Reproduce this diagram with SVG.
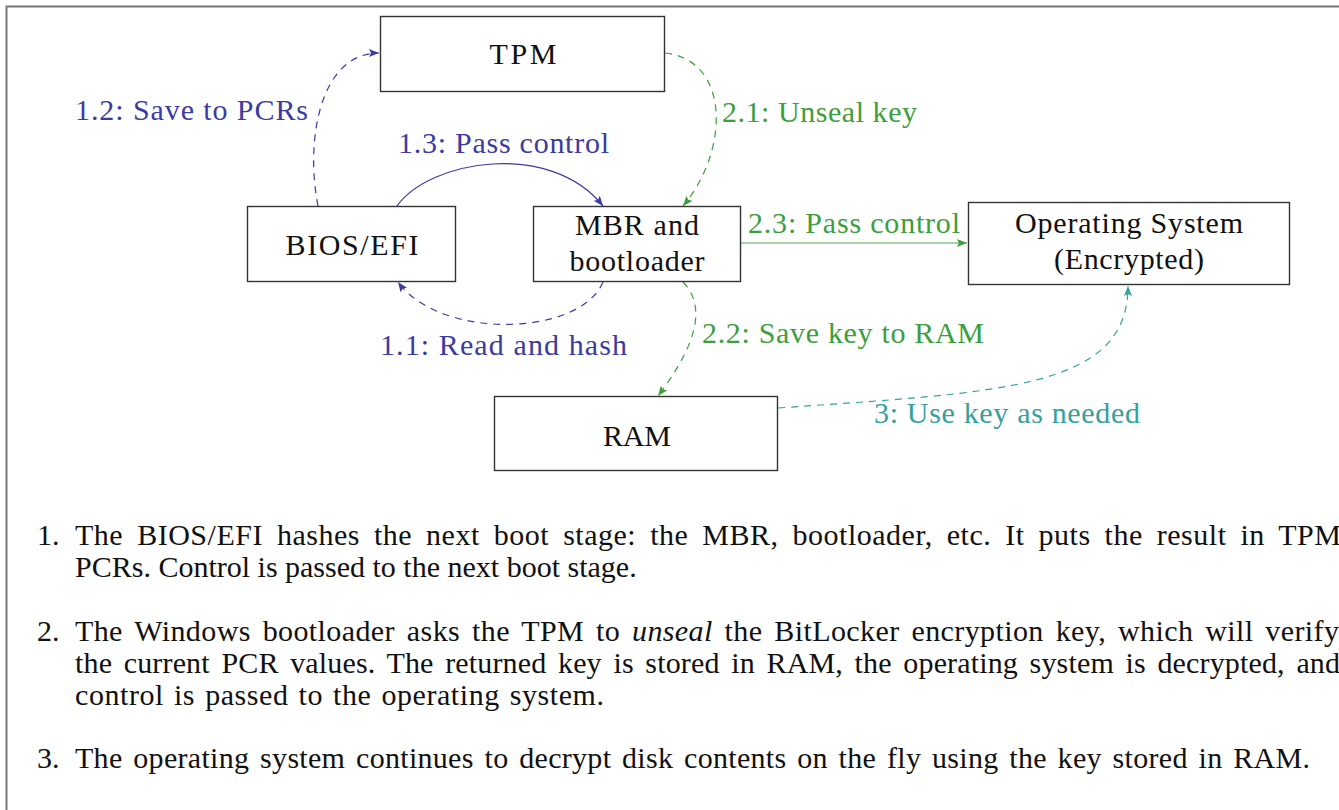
<svg xmlns="http://www.w3.org/2000/svg" width="1339" height="810" viewBox="0 0 1339 810">
  <style>
    text { font-family: "Liberation Serif", "Times New Roman", serif; font-size: 30px; }
    .node rect { fill: #ffffff; stroke: #333333; stroke-width: 1.4; }
    .node text { fill: #111111; text-anchor: middle; }
    .list text { fill: #111111; }
    .blue { fill: #3b3ba0; }
    .green { fill: #3d9e3d; }
    .teal { fill: #35a09c; }
    .c-blue { fill: none; stroke: #3b3ba0; stroke-width: 1.2; }
    .c-green { fill: none; stroke: #3d9e3d; stroke-width: 1.2; }
    .c-teal { fill: none; stroke: #35a09c; stroke-width: 1.2; }
    .dash { stroke-dasharray: 7 6; }
  </style>
  <defs>
    <marker id="ah-blue" viewBox="0 0 10 8" refX="10" refY="4" markerWidth="10" markerHeight="8" markerUnits="userSpaceOnUse" orient="auto">
      <path d="M0,0 L10,4 L0,8 L2,4 Z" fill="#3b3ba0"/>
    </marker>
    <marker id="ah-green" viewBox="0 0 10 8" refX="10" refY="4" markerWidth="10" markerHeight="8" markerUnits="userSpaceOnUse" orient="auto">
      <path d="M0,0 L10,4 L0,8 L2,4 Z" fill="#3d9e3d"/>
    </marker>
    <marker id="ah-teal" viewBox="0 0 10 8" refX="10" refY="4" markerWidth="10" markerHeight="8" markerUnits="userSpaceOnUse" orient="auto">
      <path d="M0,0 L10,4 L0,8 L2,4 Z" fill="#35a09c"/>
    </marker>
  </defs>

  <rect width="1339" height="810" fill="#ffffff"/>
  <!-- page frame -->
  <rect x="6.5" y="6.5" width="1400" height="900" fill="none" stroke="#777777" stroke-width="2"/>

  <!-- connectors -->
  <g id="connectors">
    <path class="c-blue dash" d="M318,206 C305,140 320,53 379,53" marker-end="url(#ah-blue)"/>
    <path class="c-blue" d="M397,206 C430,160 550,140 603,206" marker-end="url(#ah-blue)"/>
    <path class="c-green dash" d="M665,53 C730,60 730,150 683,206" marker-end="url(#ah-green)"/>
    <path class="c-blue dash" d="M603,282 C580,337 440,340 398,282" marker-end="url(#ah-blue)"/>
    <path class="c-green dash" d="M683,282 C705,305 700,340 658,396" marker-end="url(#ah-green)"/>
    <path fill="none" stroke="#86c486" stroke-width="1.6" d="M741,243 L967,243" marker-end="url(#ah-green)"/>
    <path class="c-teal dash" d="M778,408 C1000,392 1128,390 1128,286" marker-end="url(#ah-teal)"/>

    <text class="blue" x="75" y="120" textLength="233">1.2: Save to PCRs</text>
    <text class="blue" x="398" y="153" textLength="211">1.3: Pass control</text>
    <text class="green" x="722" y="122" textLength="195">2.1: Unseal key</text>
    <text class="green" x="748" y="233" textLength="212">2.3: Pass control</text>
    <text class="green" x="702" y="343" textLength="282">2.2: Save key to RAM</text>
    <text class="blue" x="380" y="355" textLength="247">1.1: Read and hash</text>
    <text class="teal" x="874" y="423" textLength="266">3: Use key as needed</text>
  </g>

  <!-- nodes -->
  <g id="tpm" class="node">
    <rect x="380.5" y="16.5" width="284" height="75"/>
    <text x="523" y="64" textLength="67">TPM</text>
  </g>
  <g id="bios" class="node">
    <rect x="247.5" y="206.5" width="208" height="75"/>
    <text x="352" y="255" textLength="133">BIOS/EFI</text>
  </g>
  <g id="mbr" class="node">
    <rect x="533.5" y="206.5" width="207" height="75"/>
    <text x="637" y="235" textLength="124">MBR and</text>
    <text x="637" y="271" textLength="135">bootloader</text>
  </g>
  <g id="os" class="node">
    <rect x="968.5" y="202.5" width="321" height="82"/>
    <text x="1129" y="233" textLength="228">Operating System</text>
    <text x="1129" y="269" textLength="150">(Encrypted)</text>
  </g>
  <g id="ram" class="node">
    <rect x="494.5" y="396.5" width="283" height="74"/>
    <text x="637" y="446" textLength="68">RAM</text>
  </g>

  <!-- numbered explanation; full lines are justified to the right edge -->
  <g class="list">
    <text x="37" y="545">1.</text>
    <text x="75" y="545" word-spacing="6" textLength="1266">The BIOS/EFI hashes the next boot stage: the MBR, bootloader, etc. It puts the result in TPM</text>
    <text x="75" y="577">PCRs. Control is passed to the next boot stage.</text>

    <text x="37" y="641">2.</text>
    <text x="75" y="641" word-spacing="4" textLength="1264">The Windows bootloader asks the TPM to <tspan font-style="italic">unseal</tspan> the BitLocker encryption key, which will verify</text>
    <text x="75" y="673" word-spacing="4" textLength="1265">the current PCR values. The returned key is stored in RAM, the operating system is decrypted, and</text>
    <text x="75" y="705" word-spacing="2" textLength="529">control is passed to the operating system.</text>

    <text x="37" y="768">3.</text>
    <text x="75" y="768" word-spacing="3" textLength="1235">The operating system continues to decrypt disk contents on the fly using the key stored in RAM.</text>
  </g>
</svg>
